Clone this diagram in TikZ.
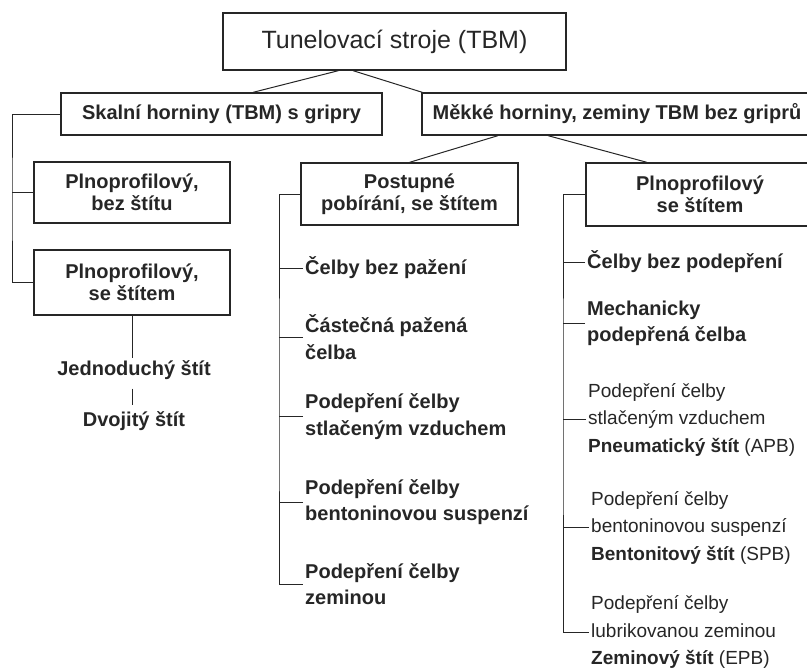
\documentclass[tikz,border=0pt]{standalone}
\usepackage{fontspec}
\setmainfont{Liberation Sans}
\usepackage{tikz}
\usetikzlibrary{positioning}
\definecolor{ink}{HTML}{262626}

\begin{document}
\begin{tikzpicture}[
    x=1pt, y=-1pt,
    box/.style={rectangle, draw=ink, line width=1.3pt, text=ink,
                font=\fontsize{20}{22}\selectfont\bfseries,
                align=center, inner sep=0pt},
    sub/.style={inner sep=2pt, text=ink, align=center,
                font=\fontsize{20}{26.5}\selectfont\bfseries},
    lbl/.style={anchor=west, inner sep=2pt, text=ink, align=left,
                font=\fontsize{20}{26.5}\selectfont\bfseries},
    lblr/.style={anchor=west, inner sep=2pt, text=ink, align=left,
                font=\fontsize{19}{27.5}\selectfont},
    link/.style={draw=ink, line width=1pt}
  ]
    \useasboundingbox (0,0) rectangle (807,670);

    \node[box, minimum width=343pt, minimum height=57pt,
          font=\fontsize{25}{28}\selectfont] (tbm) at (394.5,41.5) {Tunelovací stroje (TBM)};
    \node[box, minimum width=321pt, minimum height=42pt] (rock) at (221.5,114) {Skalní horniny (TBM) s gripry};
    \node[box, minimum width=390pt, minimum height=42pt] (soft) at (617,114) {Měkké horniny, zeminy TBM bez griprů};
    \node[box, minimum width=196pt, minimum height=61pt] (fullA) at (132,192.5) {Plnoprofilový,\\bez štítu};
    \node[box, minimum width=196pt, minimum height=65pt] (fullB) at (132,282.5) {Plnoprofilový,\\se štítem};
    \node[box, minimum width=217pt, minimum height=62pt] (stage) at (409.5,194) {Postupné\\pobírání, se štítem};
    \node[box, minimum width=228pt, minimum height=63pt] (fullS) at (700,194.5) {Plnoprofilový\\se štítem};

    \node[sub] (single) at (134,370) {Jednoduchý štít};
    \node[sub, below=28pt of single] (double) {Dvojitý štít};

    \node[lbl] (m1) at (303,268) {Čelby bez pažení};
    \node[lbl] (m2) at (303,337) {Částečná pažená\\čelba};
    \node[lbl] (m3) at (303,416.5) {Podepření čelby\\stlačeným vzduchem};
    \node[lbl] (m4) at (303,502) {Podepření čelby\\bentoninovou suspenzí};
    \node[lbl] (m5) at (303,584) {Podepření čelby\\zeminou};

    \node[lbl] (r1) at (585,262) {Čelby bez podepření};
    \node[lbl] (r2) at (585,323.5) {Mechanicky\\podepřená čelba};
    \node[lblr] (r3) at (586,419.5) {Podepření čelby\\stlačeným vzduchem\\\textbf{Pneumatický štít} (APB)};
    \node[lblr] (r4) at (589,527.5) {Podepření čelby\\bentoninovou suspenzí\\\textbf{Bentonitový štít} (SPB)};
    \node[lblr] (r5) at (589,632) {Podepření čelby\\lubrikovanou zeminou\\\textbf{Zeminový štít} (EPB)};

    \coordinate (lspine) at (12,200);
    \coordinate (mspine) at (279,400);
    \coordinate (rspine) at (563,400);

    \draw[link] ([xshift=-56pt]tbm.south) -- ([xshift=31.5pt]rock.north);
    \draw[link] ([xshift=-41.5pt]tbm.south) -- ([xshift=1pt]soft.north west);
    \draw[link] ([xshift=-119pt]soft.south) -- (stage.north);
    \draw[link] ([xshift=-69pt]soft.south) -- ([xshift=-53pt]fullS.north);

    \draw[link] (rock.west) -| (lspine) |- (fullB.west);
    \draw[link] (fullA.west) -- (fullA.west -| lspine);
    \draw[link] (fullB.south) -- (fullB.south |- single.north);
    \draw[link, shorten <=7pt, shorten >=5pt] (fullB.south |- single.south) -- (fullB.south |- double.north);

    \draw[link] (stage.west) -| (mspine) |- (m5.west);
    \draw[link] (m1.west) -- (m1.west -| mspine);
    \draw[link] (m2.west) -- (m2.west -| mspine);
    \draw[link] (m3.west) -- (m3.west -| mspine);
    \draw[link] (m4.west) -- (m4.west -| mspine);

    \draw[link] (fullS.west) -| (rspine) |- (r5.west);
    \draw[link] (r1.west) -- (r1.west -| rspine);
    \draw[link] (r2.west) -- (r2.west -| rspine);
    \draw[link] (r3.west) -- (r3.west -| rspine);
    \draw[link] (r4.west) -- (r4.west -| rspine);
  \end{tikzpicture}
\end{document}
